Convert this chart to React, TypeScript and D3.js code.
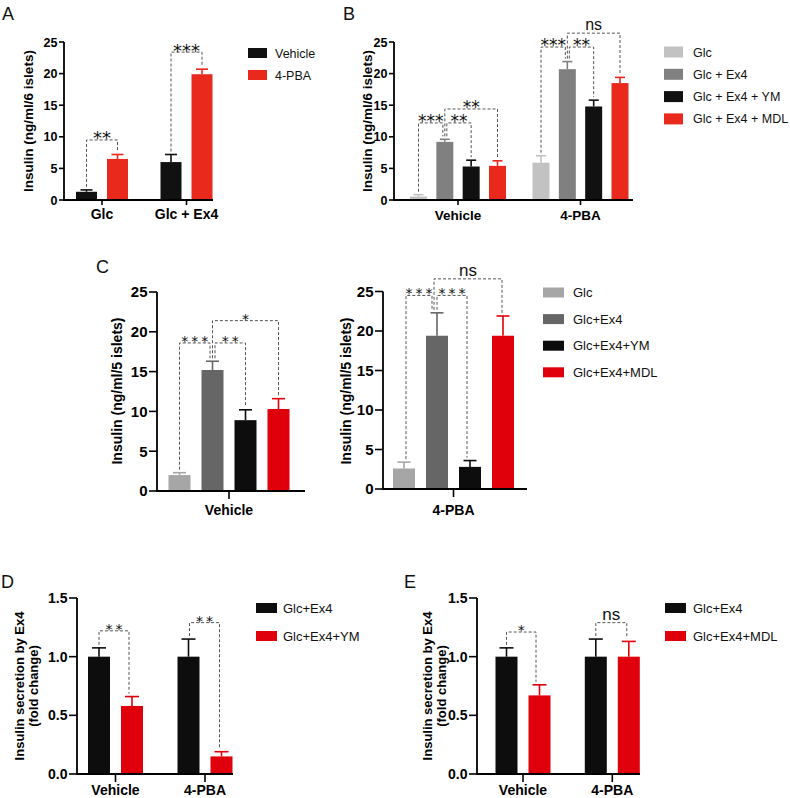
import React from 'react';
import * as d3 from 'd3';

const FONT = "'Liberation Sans', Arial, Helvetica, sans-serif";
const STAR_FONT = "'DejaVu Sans', sans-serif";

// ---------------- Panel A ----------------
const aCategories = ['Glc', 'Glc + Ex4'];
const aSeries = ['Vehicle', '4-PBA'];
const aVehicle = [1.3, 6.0];
const aVehicleErr = [0.3, 1.2];
const aPBA = [6.5, 19.9];
const aPBAErr = [0.7, 0.8];
const aColors = ['#111111', '#e8291c'];
const aBrackets = [
  { cat: 0, a: 0, b: 1, y: 9.5, label: '**' },
  { cat: 1, a: 0, b: 1, y: 23.4, label: '***' },
];

// ---------------- Panel B ----------------
const bCategories = ['Vehicle', '4-PBA'];
const bSeries = ['Glc', 'Glc + Ex4', 'Glc + Ex4 + YM', 'Glc + Ex4 + MDL'];
const bGlc = [0.55, 5.9];
const bGlcErr = [0.3, 1.1];
const bEx4 = [9.2, 20.7];
const bEx4Err = [0.4, 1.2];
const bYM = [5.3, 14.8];
const bYMErr = [1.0, 1.0];
const bMDL = [5.4, 18.5];
const bMDLErr = [0.8, 0.9];
const bColors = ['#c2c2c2', '#808080', '#111111', '#e8291c'];
const bBrackets = [
  { cat: 0, a: 0, b: 1, y: 12.2, label: '***', dxB: -2 },
  { cat: 0, a: 1, b: 2, y: 12.2, label: '**', dxA: 2 },
  { cat: 0, a: 1, b: 3, y: 14.4, label: '**', dxA: 0 },
  { cat: 1, a: 0, b: 1, y: 24.2, label: '***', dxB: -2 },
  { cat: 1, a: 1, b: 2, y: 24.2, label: '**', dxA: 2 },
  { cat: 1, a: 1, b: 3, y: 26.4, label: 'ns', dxA: 0 },
];

// ---------------- Panel C ----------------
const cSeries = ['Glc', 'Glc+Ex4', 'Glc+Ex4+YM', 'Glc+Ex4+MDL'];
const cColors = ['#a6a6a6', '#666666', '#0d0d0d', '#e0000b'];
const cLeftCategories = ['Vehicle'];
const cLeftValues = [2.0, 15.2, 8.9, 10.3];
const cLeftErrors = [0.3, 1.1, 1.3, 1.3];
const cLeftBrackets = [
  { cat: 0, a: 0, b: 1, y: 18.6, label: '***', dxB: -2.5 },
  { cat: 0, a: 1, b: 2, y: 18.6, label: '**', dxA: 2.5 },
  { cat: 0, a: 1, b: 3, y: 21.4, label: '*', dxA: 0 },
];
const cRightCategories = ['4-PBA'];
const cRightValues = [2.6, 19.4, 2.8, 19.4];
const cRightErrors = [0.8, 2.9, 0.8, 2.5];
const cRightBrackets = [
  { cat: 0, a: 0, b: 1, y: 24.5, label: '***', dxA: 2, dxB: -5 },
  { cat: 0, a: 1, b: 2, y: 24.5, label: '***', dxA: 0, dxB: -3 },
  { cat: 0, a: 1, b: 3, y: 26.6, label: 'ns', dxA: -3, dxB: -1 },
];

// ---------------- Panels D & E ----------------
const deCategories = ['Vehicle', '4-PBA'];
const dSeries = ['Glc+Ex4', 'Glc+Ex4+YM'];
const dEx4 = [1.0, 1.0];
const dEx4Err = [0.075, 0.15];
const dYM = [0.58, 0.15];
const dYMErr = [0.08, 0.04];
const dBrackets = [
  { cat: 0, a: 0, b: 1, y: 1.22, label: '**', dxB: -3 },
  { cat: 1, a: 0, b: 1, y: 1.29, label: '**', dxA: 1, dxB: -2 },
];
const eSeries = ['Glc+Ex4', 'Glc+Ex4+MDL'];
const eEx4 = [1.0, 1.0];
const eEx4Err = [0.075, 0.15];
const eMDL = [0.67, 1.0];
const eMDLErr = [0.09, 0.13];
const eBrackets = [
  { cat: 0, a: 0, b: 1, y: 1.21, label: '*', dxB: -3.5 },
  { cat: 1, a: 0, b: 1, y: 1.29, label: 'ns', dxB: -2 },
];
const deColors = ['#0d0d0d', '#e0000b'];

const ticks25 = [0, 5, 10, 15, 20, 25];
const ticks15 = [0, 0.5, 1.0, 1.5];

type Bracket = { cat: number; a: number; b: number; y: number; label: string; dxA?: number; dxB?: number };

interface PanelSpec {
  categories: string[];
  series: string[];
  values: number[][]; // [series][cat]
  errors: number[][];
  colors: string[];
  yMax: number;
  yTicks: number[];
  fmt: (v: number) => string;
  brackets: Bracket[];
  axisX: number;
  axisEnd: number;
  y0: number;
  yTop: number;
  groupRange: [number, number];
  halfSpan: number;
  barW: number;
  tickLen: number;
  tickFont: number;
  xTickLen: number;
  xLabelFont: number;
  xLabelY: number;
  title: string[];
  titleX: number[];
  titleY: number;
  titleFont: number;
  capW: number;
  starFont: number;
  starLS: number;
  nsFont: number;
}

function BarPanel({ p }: { p: PanelSpec }) {
  const y = d3.scaleLinear().domain([0, p.yMax]).range([p.y0, p.yTop]);
  const gx = d3.scalePoint<string>().domain(p.categories).range(p.groupRange);
  const n = p.series.length;
  const span = p.halfSpan * 2;
  const pad = (span - p.barW * n) / (span - p.barW);
  const ix = d3
    .scaleBand<string>()
    .domain(p.series)
    .range([-p.halfSpan, p.halfSpan])
    .paddingInner(pad)
    .paddingOuter(0);
  const bw = ix.bandwidth();
  const cx = (c: number, s: number) => (gx(p.categories[c]) as number) + (ix(p.series[s]) as number) + bw / 2;
  const errTop = (c: number, s: number) => y(p.values[s][c] + p.errors[s][c]);

  return (
    <g fontFamily={FONT}>
      {p.series.map((s, si) =>
        p.categories.map((c, ci) => (
          <rect
            key={`b-${si}-${ci}`}
            x={cx(ci, si) - bw / 2}
            y={y(p.values[si][ci])}
            width={bw}
            height={p.y0 - y(p.values[si][ci])}
            fill={p.colors[si]}
          />
        ))
      )}
      {p.series.map((s, si) =>
        p.categories.map((c, ci) => {
          const x = cx(ci, si);
          const t = errTop(ci, si);
          return (
            <g key={`e-${si}-${ci}`} stroke={p.colors[si]} strokeWidth={1.6}>
              <line x1={x} x2={x} y1={y(p.values[si][ci])} y2={t} />
              <line x1={x - p.capW / 2} x2={x + p.capW / 2} y1={t} y2={t} />
            </g>
          );
        })
      )}
      <line x1={p.axisX} x2={p.axisX} y1={p.y0} y2={p.yTop} stroke="#000" strokeWidth={1.8} />
      {p.yTicks.map((t) => (
        <g key={`yt-${t}`}>
          <line x1={p.axisX - p.tickLen} x2={p.axisX} y1={y(t)} y2={y(t)} stroke="#000" strokeWidth={1.6} />
          <text
            x={p.axisX - p.tickLen - 1.5}
            y={y(t)}
            dy="0.36em"
            textAnchor="end"
            fontSize={p.tickFont}
            fontWeight="bold"
          >
            {p.fmt(t)}
          </text>
        </g>
      ))}
      <line x1={p.axisX - 0.9} x2={p.axisEnd} y1={p.y0} y2={p.y0} stroke="#000" strokeWidth={1.8} />
      {p.categories.map((c) => (
        <g key={`xt-${c}`}>
          <line
            x1={gx(c) as number}
            x2={gx(c) as number}
            y1={p.y0}
            y2={p.y0 + p.xTickLen}
            stroke="#000"
            strokeWidth={1.6}
          />
          <text x={gx(c) as number} y={p.xLabelY} textAnchor="middle" fontSize={p.xLabelFont} fontWeight="bold">
            {c}
          </text>
        </g>
      ))}
      {p.title.map((line, i) => (
        <text
          key={`tt-${i}`}
          transform={`translate(${p.titleX[i]},${p.titleY}) rotate(-90)`}
          textAnchor="middle"
          fontSize={p.titleFont}
          fontWeight="bold"
        >
          {line}
        </text>
      ))}
      {p.brackets.map((b, i) => {
        const xa = cx(b.cat, b.a) + (b.dxA || 0);
        const xb = cx(b.cat, b.b) + (b.dxB || 0);
        const yb = y(b.y);
        const ya = errTop(b.cat, b.a) - 3;
        const yB = errTop(b.cat, b.b) - 3;
        const isNs = b.label === 'ns';
        const fs = isNs ? p.nsFont : p.starFont;
        const ls = isNs ? 0 : p.starLS;
        return (
          <g key={`br-${i}`}>
            <path
              d={`M${xa},${ya}V${yb}H${xb}V${yB}`}
              fill="none"
              stroke="#555"
              strokeWidth={1}
              strokeDasharray="3,2"
            />
            <text
              x={(xa + xb) / 2 + ls / 2}
              y={isNs ? yb - 3 : yb - 2 + fs * 0.36}
              textAnchor="middle"
              fontSize={fs}
              fontFamily={isNs ? FONT : STAR_FONT}
              letterSpacing={ls}
              fill="#111"
            >
              {b.label}
            </text>
          </g>
        );
      })}
    </g>
  );
}

function Legend({
  labels,
  colors,
  x,
  yStart,
  step,
  w,
  h,
  textX,
  font,
}: {
  labels: string[];
  colors: string[];
  x: number;
  yStart: number;
  step: number;
  w: number;
  h: number;
  textX: number;
  font: number;
}) {
  return (
    <g fontFamily={FONT}>
      {labels.map((l, i) => (
        <g key={l}>
          <rect x={x} y={yStart + i * step - h / 2} width={w} height={h} fill={colors[i]} />
          <text x={textX} y={yStart + i * step} dy="0.36em" fontSize={font} fill="#111">
            {l}
          </text>
        </g>
      ))}
    </g>
  );
}

const fmtInt = d3.format('d');
const fmt1 = d3.format('.1f');

const panelA: PanelSpec = {
  categories: aCategories,
  series: aSeries,
  values: [aVehicle, aPBA],
  errors: [aVehicleErr, aPBAErr],
  colors: aColors,
  yMax: 25,
  yTicks: ticks25,
  fmt: fmtInt,
  brackets: aBrackets,
  axisX: 64,
  axisEnd: 213,
  y0: 200,
  yTop: 42,
  groupRange: [102, 186.5],
  halfSpan: 26,
  barW: 21,
  tickLen: 5,
  tickFont: 12.5,
  xTickLen: 5,
  xLabelFont: 14,
  xLabelY: 219,
  title: ['Insulin (ng/ml/6 islets)'],
  titleX: [33],
  titleY: 121,
  titleFont: 13.5,
  capW: 12,
  starFont: 18,
  starLS: 0,
  nsFont: 16,
};

const panelB: PanelSpec = {
  categories: bCategories,
  series: bSeries,
  values: [bGlc, bEx4, bYM, bMDL],
  errors: [bGlcErr, bEx4Err, bYMErr, bMDLErr],
  colors: bColors,
  yMax: 25,
  yTicks: ticks25,
  fmt: fmtInt,
  brackets: bBrackets,
  axisX: 394,
  axisEnd: 633,
  y0: 200,
  yTop: 42,
  groupRange: [458, 580.5],
  halfSpan: 48,
  barW: 17,
  tickLen: 5,
  tickFont: 12.5,
  xTickLen: 5,
  xLabelFont: 13.5,
  xLabelY: 220,
  title: ['Insulin (ng/ml/6 islets)'],
  titleX: [372],
  titleY: 121,
  titleFont: 13.5,
  capW: 10,
  starFont: 17,
  starLS: 0,
  nsFont: 16,
};

const cCommon = {
  series: cSeries,
  colors: cColors,
  yMax: 25,
  yTicks: ticks25,
  fmt: fmtInt,
  halfSpan: 60.5,
  barW: 22,
  tickLen: 8,
  tickFont: 15,
  xTickLen: 8,
  xLabelFont: 14,
  xLabelY: 515,
  title: ['Insulin (ng/ml/5 islets)'],
  titleY: 391,
  titleFont: 14,
  capW: 13,
  starFont: 14,
  starLS: 3,
  nsFont: 17,
};

const panelCLeft: PanelSpec = {
  ...cCommon,
  categories: cLeftCategories,
  values: cLeftValues.map((v) => [v]),
  errors: cLeftErrors.map((v) => [v]),
  brackets: cLeftBrackets,
  axisX: 157,
  axisEnd: 305,
  y0: 491,
  yTop: 292,
  groupRange: [229, 229],
  titleX: [122],
};

const panelCRight: PanelSpec = {
  ...cCommon,
  categories: cRightCategories,
  values: cRightValues.map((v) => [v]),
  errors: cRightErrors.map((v) => [v]),
  brackets: cRightBrackets,
  axisX: 383,
  axisEnd: 527,
  y0: 489,
  yTop: 291.5,
  groupRange: [453.5, 453.5],
  titleX: [351],
};

const deCommon = {
  categories: deCategories,
  colors: deColors,
  yMax: 1.5,
  yTicks: ticks15,
  fmt: fmt1,
  y0: 774,
  yTop: 598,
  halfSpan: 27.5,
  barW: 22,
  tickLen: 8,
  tickFont: 14,
  xTickLen: 8,
  xLabelFont: 14,
  xLabelY: 795,
  title: ['Insulin secretion by Ex4', '(fold change)'],
  titleY: 686,
  titleFont: 13,
  capW: 14,
  starFont: 14,
  starLS: 3,
  nsFont: 17,
};

const panelD: PanelSpec = {
  ...deCommon,
  series: dSeries,
  values: [dEx4, dYM],
  errors: [dEx4Err, dYMErr],
  brackets: dBrackets,
  axisX: 77,
  axisEnd: 233,
  groupRange: [115.5, 205],
  titleX: [23.5, 37.5],
};

const panelE: PanelSpec = {
  ...deCommon,
  series: eSeries,
  values: [eEx4, eMDL],
  errors: [eEx4Err, eMDLErr],
  brackets: eBrackets,
  axisX: 477,
  axisEnd: 640,
  groupRange: [523, 612.3],
  titleX: [432, 446],
};

const panelLetters = [
  { t: 'A', x: 2, y: 20 },
  { t: 'B', x: 343, y: 20 },
  { t: 'C', x: 96, y: 273 },
  { t: 'D', x: 1, y: 588 },
  { t: 'E', x: 404, y: 588 },
];

export default function App() {
  return (
    <svg
      width={790}
      height={798}
      viewBox="0 0 790 798"
      style={{ position: 'absolute', left: 0, top: 0, background: '#fff' }}
    >
      <rect x={0} y={0} width={790} height={798} fill="#fff" />
      {panelLetters.map((l) => (
        <text key={l.t} x={l.x} y={l.y} fontFamily={FONT} fontSize={18} fill="#111">
          {l.t}
        </text>
      ))}
      <BarPanel p={panelA} />
      <Legend labels={aSeries} colors={aColors} x={248} yStart={53} step={22} w={19} h={10} textX={275} font={12.5} />
      <BarPanel p={panelB} />
      <Legend labels={bSeries} colors={bColors} x={664} yStart={52} step={22.3} w={19} h={11} textX={693} font={12.5} />
      <BarPanel p={panelCLeft} />
      <BarPanel p={panelCRight} />
      <Legend labels={cSeries} colors={cColors} x={543} yStart={292.5} step={26.6} w={21} h={10} textX={573} font={13} />
      <BarPanel p={panelD} />
      <Legend labels={dSeries} colors={deColors} x={256} yStart={608} step={28} w={21} h={10} textX={283} font={13} />
      <BarPanel p={panelE} />
      <Legend labels={eSeries} colors={deColors} x={665} yStart={608} step={28} w={21} h={10} textX={693} font={13} />
    </svg>
  );
}
